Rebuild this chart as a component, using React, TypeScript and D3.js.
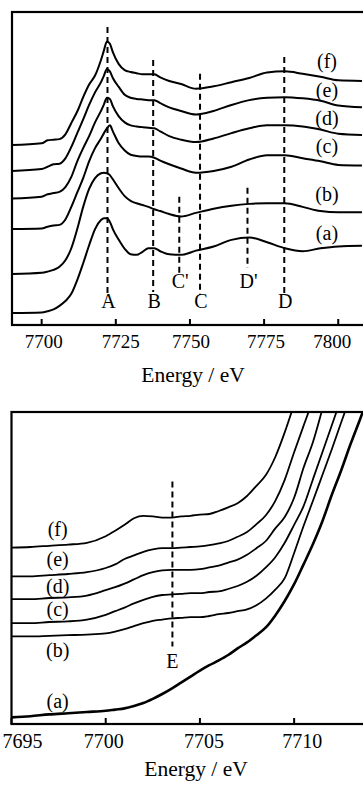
import React from 'react';
import * as d3 from 'd3';

const FONT = "'Liberation Serif', 'Times New Roman', Times, serif";

// ---- Upper panel: full XANES region, spectra stacked with vertical offsets ----
const xanesEnergy = [7690, 7700, 7702, 7704, 7706, 7708, 7710, 7712, 7714, 7716, 7718, 7720, 7721, 7722, 7723, 7724, 7726, 7728, 7730, 7732, 7734, 7736, 7738, 7740, 7743, 7747, 7752, 7758, 7764, 7770, 7776, 7782, 7788, 7794, 7800, 7808];
const xanesA = [0.20, 0.21, 0.23, 0.26, 0.32, 0.40, 0.52, 0.75, 1.03, 1.33, 1.60, 1.75, 1.78, 1.78, 1.72, 1.60, 1.42, 1.27, 1.18, 1.17, 1.22, 1.28, 1.28, 1.23, 1.18, 1.17, 1.24, 1.31, 1.42, 1.46, 1.38, 1.28, 1.23, 1.28, 1.31, 1.32];
const xanesB = [0.85, 0.87, 0.89, 0.92, 0.97, 1.08, 1.28, 1.60, 1.97, 2.27, 2.45, 2.53, 2.54, 2.53, 2.50, 2.43, 2.28, 2.15, 2.07, 2.03, 2.00, 1.97, 1.93, 1.90, 1.85, 1.81, 1.87, 1.94, 1.99, 2.02, 2.03, 2.03, 1.97, 1.90, 1.88, 1.88];
const xanesC = [1.60, 1.61, 1.64, 1.66, 1.67, 1.76, 1.97, 2.21, 2.45, 2.73, 2.95, 3.11, 3.20, 3.28, 3.33, 3.23, 3.03, 2.91, 2.84, 2.82, 2.81, 2.81, 2.79, 2.74, 2.68, 2.61, 2.54, 2.57, 2.64, 2.76, 2.83, 2.83, 2.78, 2.73, 2.67, 2.66];
const xanesD = [2.11, 2.14, 2.18, 2.20, 2.22, 2.30, 2.47, 2.73, 2.95, 3.15, 3.38, 3.57, 3.68, 3.79, 3.77, 3.65, 3.48, 3.38, 3.33, 3.31, 3.30, 3.29, 3.28, 3.23, 3.15, 3.09, 3.05, 3.11, 3.20, 3.28, 3.33, 3.33, 3.31, 3.26, 3.19, 3.17];
const xanesE = [2.57, 2.60, 2.64, 2.68, 2.69, 2.78, 2.97, 3.20, 3.43, 3.67, 3.88, 4.05, 4.16, 4.27, 4.23, 4.12, 3.97, 3.84, 3.79, 3.77, 3.76, 3.75, 3.75, 3.70, 3.63, 3.57, 3.51, 3.57, 3.67, 3.75, 3.79, 3.80, 3.78, 3.74, 3.66, 3.63];
const xanesF = [3.00, 3.03, 3.08, 3.09, 3.10, 3.18, 3.37, 3.56, 3.80, 4.01, 4.16, 4.42, 4.58, 4.73, 4.69, 4.55, 4.35, 4.25, 4.22, 4.20, 4.18, 4.18, 4.18, 4.13, 4.07, 4.02, 3.94, 3.98, 4.05, 4.12, 4.21, 4.23, 4.19, 4.14, 4.08, 4.07];
const xanesSeries = [xanesA, xanesB, xanesC, xanesD, xanesE, xanesF];
const seriesNames = ['(a)', '(b)', '(c)', '(d)', '(e)', '(f)'];
const xanesNameLevel = [1.42, 2.06, 2.87, 3.33, 3.81, 4.28];
const xanesNameEnergy = 7796.2;

const xanesTicks = [7700, 7725, 7750, 7775, 7800];
const xanesTickNudge = [2, 5, 1, 2, -6];

// Resonance markers
const featureNames = ['A', 'B', "C'", 'C', "D'", 'D'];
const featureEnergy = [7722.2, 7737.6, 7746.4, 7753.4, 7769.4, 7781.8];
const featureTop = [4.97, 4.42, 2.14, 4.19, 2.29, 4.47];
const featureBottom = [0.47, 0.55, 0.87, 0.50, 0.95, 0.50];
const featureLabelLevel = [0.28, 0.28, 0.61, 0.28, 0.61, 0.28];

// ---- Lower panel: pre-edge region ----
const preEnergy = [7695, 7696, 7697, 7698, 7699, 7700, 7700.5, 7701, 7701.5, 7702, 7702.5, 7703, 7703.5, 7704, 7704.5, 7705, 7705.5, 7706, 7706.5, 7707, 7707.5, 7708, 7708.5, 7709, 7709.5, 7710, 7710.5, 7711, 7711.5, 7712, 7712.5, 7713, 7713.5, 7714];
const preA = [0.11, 0.13, 0.16, 0.18, 0.20, 0.22, 0.24, 0.26, 0.30, 0.35, 0.42, 0.50, 0.59, 0.69, 0.79, 0.89, 0.98, 1.06, 1.15, 1.26, 1.36, 1.48, 1.61, 1.81, 2.05, 2.33, 2.66, 3.00, 3.38, 3.82, 4.23, 4.67, 5.08, 5.50];
const preB = [1.46, 1.46, 1.47, 1.48, 1.49, 1.51, 1.54, 1.58, 1.63, 1.68, 1.72, 1.74, 1.76, 1.77, 1.78, 1.78, 1.80, 1.83, 1.85, 1.88, 1.91, 1.98, 2.09, 2.24, 2.43, 2.85, 3.30, 3.72, 4.15, 4.58, 5.03, 5.47, null, null];
const preC = [1.68, 1.68, 1.70, 1.71, 1.74, 1.82, 1.88, 1.94, 2.01, 2.07, 2.12, 2.15, 2.16, 2.17, 2.18, 2.18, 2.20, 2.21, 2.25, 2.30, 2.37, 2.47, 2.61, 2.78, 3.02, 3.32, 3.63, 4.08, 4.53, 4.98, 5.43, null, null, null];
const preD = [2.08, 2.08, 2.10, 2.11, 2.14, 2.23, 2.28, 2.34, 2.41, 2.48, 2.53, 2.56, 2.57, 2.57, 2.57, 2.58, 2.61, 2.64, 2.69, 2.74, 2.82, 2.93, 3.05, 3.26, 3.45, 3.77, 4.27, 4.70, 5.25, null, null, null, null, null];
const preE = [2.46, 2.46, 2.48, 2.50, 2.53, 2.60, 2.66, 2.75, 2.81, 2.87, 2.91, 2.93, 2.93, 2.94, 2.95, 2.96, 2.98, 3.01, 3.05, 3.12, 3.20, 3.33, 3.48, 3.72, 4.07, 4.53, 4.97, 5.40, null, null, null, null, null, null];
const preF = [2.94, 2.95, 2.97, 2.99, 3.02, 3.13, 3.22, 3.32, 3.43, 3.47, 3.46, 3.44, 3.44, 3.46, 3.47, 3.49, 3.50, 3.55, 3.61, 3.68, 3.80, 3.97, 4.15, 4.45, 4.86, 5.33, null, null, null, null, null, null, null, null];
const preSeries = [preA, preB, preC, preD, preE, preF];
const preStroke = [2.6, 1.8, 1.8, 1.8, 1.8, 1.8];
const preNameLevel = [0.27, 1.11, 1.80, 2.19, 2.63, 3.13];
const preNameEnergy = 7697.45;

const preTicks = [7695, 7700, 7705, 7710];
const preTickNudge = [11, -2, 4, 8];

const preFeatureName = 'E';
const preFeatureEnergy = 7703.54;
const preFeatureTop = 4.04;
const preFeatureBottom = 1.29;
const preFeatureLabelLevel = 0.93;

type Pt = [number, number | null];

export default function App() {
  // upper panel scales
  const xT = d3.scaleLinear().domain([7690, 7810]).range([12, 367.9]);
  const yT = d3.scaleLinear().domain([0, 5.22]).range([325, 12]);
  // lower panel scales
  const xB = d3.scaleLinear().domain([7695, 7714]).range([11.5, 369.5]);
  const yB = d3.scaleLinear().domain([0, 5.2]).range([724, 412]);

  const lineT = d3
    .line<Pt>()
    .x((d) => xT(d[0]))
    .y((d) => yT(d[1] as number))
    .curve(d3.curveMonotoneX);
  const lineB = d3
    .line<Pt>()
    .defined((d) => d[1] !== null)
    .x((d) => xB(d[0]))
    .y((d) => yB(d[1] as number))
    .curve(d3.curveMonotoneX);

  const dash = '6,4';
  const tickLen = 6;
  const textStyle = { fontFamily: FONT };

  return (
    <svg
      width={363}
      height={785}
      viewBox="0 0 363 785"
      style={{ position: 'absolute', left: 0, top: 0, background: '#fff', fontFamily: FONT }}
    >
      <defs>
        <clipPath id="clipTop">
          <rect x={xT(7690)} y={yT(5.22)} width={xT(7810) - xT(7690)} height={yT(0) - yT(5.22)} />
        </clipPath>
        <clipPath id="clipBottom">
          <rect x={xB(7695)} y={yB(5.2)} width={xB(7714) - xB(7695)} height={yB(0) - yB(5.2)} />
        </clipPath>
      </defs>

      {/* ===== Upper panel ===== */}
      <g clipPath="url(#clipTop)">
        {xanesSeries.map((vals, i) => (
          <path
            key={'xs' + i}
            d={lineT(xanesEnergy.map((e, j) => [e, vals[j]] as Pt)) || ''}
            fill="none"
            stroke="#000"
            strokeWidth={2}
            strokeLinejoin="round"
          />
        ))}
      </g>
      {featureEnergy.map((e, i) => (
        <g key={'ft' + i}>
          <line
            x1={xT(e)}
            x2={xT(e)}
            y1={yT(featureTop[i])}
            y2={yT(featureBottom[i])}
            stroke="#000"
            strokeWidth={2}
            strokeDasharray={dash}
          />
          <text x={xT(e) + 1} y={yT(featureLabelLevel[i])} fontSize={20} textAnchor="middle" style={textStyle}>
            {featureNames[i]}
          </text>
        </g>
      ))}
      {seriesNames.map((n, i) => (
        <text
          key={'xn' + i}
          x={xT(xanesNameEnergy)}
          y={yT(xanesNameLevel[i])}
          fontSize={20}
          textAnchor="middle"
          style={textStyle}
        >
          {n}
        </text>
      ))}
      <rect
        x={xT(7690)}
        y={yT(5.22)}
        width={xT(7810) - xT(7690)}
        height={yT(0) - yT(5.22)}
        fill="none"
        stroke="#000"
        strokeWidth={2.2}
      />
      {xanesTicks.map((t, i) => (
        <g key={'xt' + i}>
          <line x1={xT(t)} x2={xT(t)} y1={yT(0)} y2={yT(0) - tickLen} stroke="#000" strokeWidth={2} />
          <text x={xT(t) + xanesTickNudge[i]} y={348} fontSize={19} textAnchor="middle" style={textStyle}>
            {t}
          </text>
        </g>
      ))}
      <text x={193} y={382} fontSize={21.5} textAnchor="middle" style={textStyle}>
        Energy / eV
      </text>

      {/* ===== Lower panel ===== */}
      <g clipPath="url(#clipBottom)">
        {preSeries.map((vals, i) => (
          <path
            key={'ps' + i}
            d={lineB(preEnergy.map((e, j) => [e, vals[j]] as Pt)) || ''}
            fill="none"
            stroke="#000"
            strokeWidth={preStroke[i]}
            strokeLinejoin="round"
          />
        ))}
      </g>
      <line
        x1={xB(preFeatureEnergy)}
        x2={xB(preFeatureEnergy)}
        y1={yB(preFeatureTop)}
        y2={yB(preFeatureBottom)}
        stroke="#000"
        strokeWidth={2}
        strokeDasharray={dash}
      />
      <text x={xB(preFeatureEnergy)} y={yB(preFeatureLabelLevel)} fontSize={20} textAnchor="middle" style={textStyle}>
        {preFeatureName}
      </text>
      {seriesNames.map((n, i) => (
        <text
          key={'pn' + i}
          x={xB(preNameEnergy)}
          y={yB(preNameLevel[i])}
          fontSize={20}
          textAnchor="middle"
          style={textStyle}
        >
          {n}
        </text>
      ))}
      <rect
        x={xB(7695)}
        y={yB(5.2)}
        width={xB(7714) - xB(7695)}
        height={yB(0) - yB(5.2)}
        fill="none"
        stroke="#000"
        strokeWidth={2.2}
      />
      {preTicks.map((t, i) => (
        <g key={'pt' + i}>
          <line x1={xB(t)} x2={xB(t)} y1={yB(0)} y2={yB(0) - tickLen} stroke="#000" strokeWidth={2} />
          <text x={xB(t) + preTickNudge[i]} y={748} fontSize={20} textAnchor="middle" style={textStyle}>
            {t}
          </text>
        </g>
      ))}
      <text x={196} y={776} fontSize={21.5} textAnchor="middle" style={textStyle}>
        Energy / eV
      </text>
    </svg>
  );
}
